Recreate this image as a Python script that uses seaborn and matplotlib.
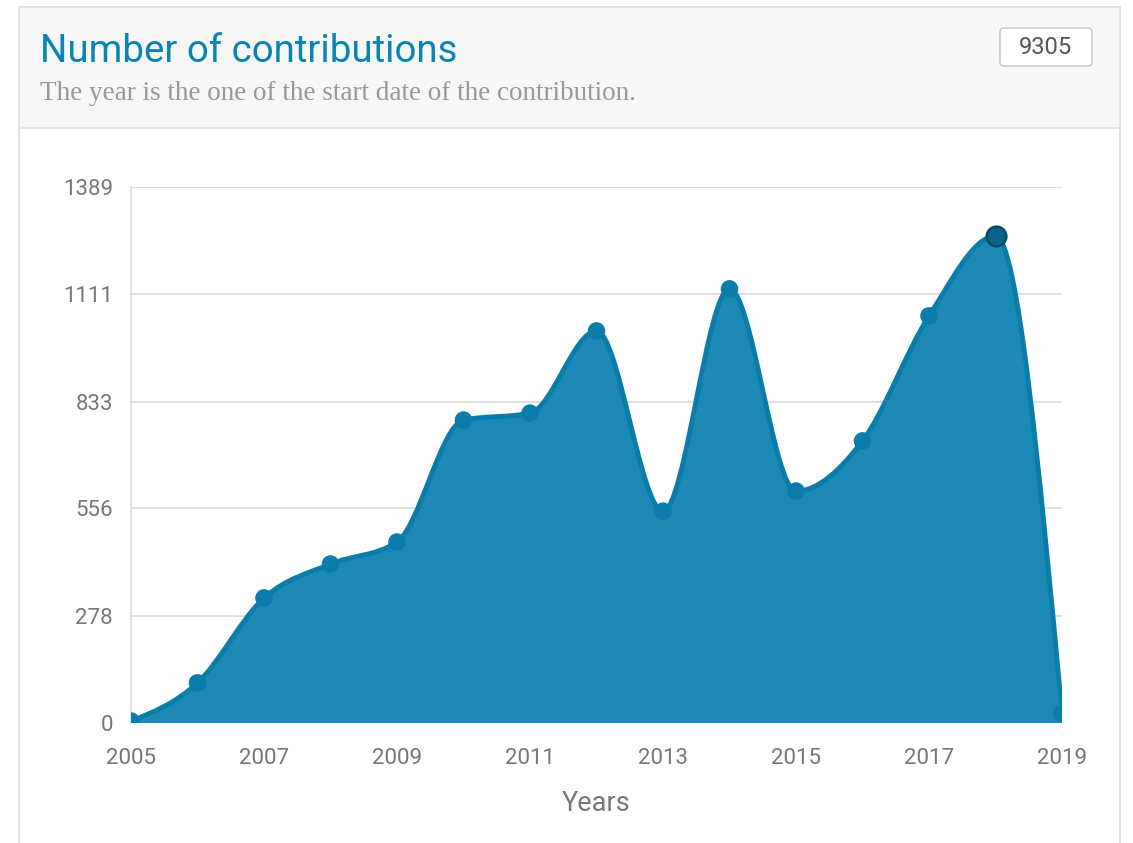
import numpy as np
import pandas as pd
import matplotlib
matplotlib.use("Agg")
import matplotlib.pyplot as plt
from matplotlib.path import Path
from matplotlib.patches import PathPatch, Rectangle, FancyBboxPatch
import seaborn as sns

years = [2005, 2006, 2007, 2008, 2009, 2010, 2011, 2012,
         2013, 2014, 2015, 2016, 2017, 2018, 2019]
contributions = [5, 104, 324, 412, 469, 785, 803, 1016,
                 549, 1125, 601, 731, 1055, 1262, 26]
y_ticks = [0, 278, 556, 833, 1111, 1389]
x_ticks = [2005, 2007, 2009, 2011, 2013, 2015, 2017, 2019]
total_label = "9305"

C_FILL = "#1d89b6"
C_LINE = "#0a7dab"
C_PEAK = "#0b6388"
C_TITLE = "#0a85b3"
C_TICK = "#777777"
C_GRID = "#dddddd"

sns.set_style("white")
plt.rcParams["font.family"] = ["Roboto", "DejaVu Sans"]

df = pd.DataFrame({"year": years, "n": contributions})


def monotone_path(x, y, closed_base=None):
    # monotone-x cubic (no overshoot at extremes) as bezier segments
    x = np.asarray(x, float)
    y = np.asarray(y, float)
    n = len(x)
    h = np.diff(x)
    s = np.diff(y) / h
    t = np.zeros(n)
    for i in range(1, n - 1):
        p = (s[i - 1] * h[i] + s[i] * h[i - 1]) / (h[i - 1] + h[i])
        t[i] = (np.sign(s[i - 1]) + np.sign(s[i])) * min(abs(s[i - 1]), abs(s[i]), 0.5 * abs(p))
    t[0] = (3 * s[0] - t[1]) / 2
    t[-1] = (3 * s[-1] - t[-2]) / 2
    verts = [(x[0], y[0])]
    codes = [Path.MOVETO]
    for i in range(n - 1):
        dx = h[i] / 3
        verts += [(x[i] + dx, y[i] + dx * t[i]),
                  (x[i + 1] - dx, y[i + 1] - dx * t[i + 1]),
                  (x[i + 1], y[i + 1])]
        codes += [Path.CURVE4] * 3
    if closed_base is not None:
        verts += [(x[-1], closed_base), (x[0], closed_base), (x[0], y[0])]
        codes += [Path.LINETO, Path.LINETO, Path.CLOSEPOLY]
    return Path(verts, codes)


fig = plt.figure(figsize=(11.33, 8.43), dpi=100)
fig.patch.set_facecolor("white")

# panel frame and header
fig.patches.append(Rectangle((19 / 1133, -0.01), 1101 / 1133, 1.01 - 7 / 843,
                             transform=fig.transFigure, facecolor="white",
                             edgecolor="#dcdcdc", linewidth=1.2, zorder=-10))
fig.patches.append(Rectangle((19 / 1133, 1 - 128 / 843), 1101 / 1133, 121 / 843,
                             transform=fig.transFigure, facecolor="#f7f7f7",
                             edgecolor="#e3e3e3", linewidth=1.2, zorder=-9))
fig.text(40 / 1133, 1 - 51 / 843, "Number of contributions", color=C_TITLE,
         fontsize=27.6, va="center", ha="left")
fig.text(40 / 1133, 1 - 94 / 843, "The year is the one of the start date of the contribution.",
         color="#999999", fontsize=19.5, va="center", ha="left",
         family=["Liberation Serif", "DejaVu Serif"])
fig.patches.append(FancyBboxPatch((1000 / 1133, 1 - 66 / 843), 92 / 1133, 38 / 843,
                                  boxstyle="round,pad=0,rounding_size=0.004",
                                  transform=fig.transFigure, facecolor="white",
                                  edgecolor="#cccccc", linewidth=1.2, zorder=-8))
fig.text(1046 / 1133, 1 - 48 / 843, total_label, color="#555555", fontsize=17,
         ha="center", va="center")

ax = fig.add_axes([131 / 1133, 1 - 723 / 843, 931 / 1133, 536 / 843])
ax.set_facecolor("none")
ax.set_xlim(years[0], years[-1])
ax.set_ylim(0, y_ticks[-1])
ax.set_yticks(y_ticks)
ax.set_xticks(x_ticks)
ax.set_yticklabels([str(t) for t in y_ticks])
ax.set_xticklabels([str(t) for t in x_ticks])
ax.yaxis.grid(True, color=C_GRID, linewidth=1.3)
ax.set_axisbelow(True)
for sp in ["top", "right", "bottom"]:
    ax.spines[sp].set_visible(False)
ax.spines["left"].set_color(C_GRID)
ax.spines["left"].set_linewidth(1.3)
ax.tick_params(axis="both", length=0, labelsize=16, labelcolor=C_TICK)
ax.tick_params(axis="y", pad=13)
ax.tick_params(axis="x", pad=18)

area = PathPatch(monotone_path(df["year"], df["n"], closed_base=0),
                 facecolor=C_FILL, edgecolor="none", zorder=2)
ax.add_patch(area)
line = PathPatch(monotone_path(df["year"], df["n"]), facecolor="none",
                 edgecolor=C_LINE, linewidth=3.5, zorder=3, capstyle="round")
ax.add_patch(line)

sns.scatterplot(data=df, x="year", y="n", ax=ax, s=160, color=C_LINE,
                edgecolor="none", zorder=4, legend=False)
peak = df.loc[df["n"].idxmax()]
ax.scatter([peak["year"]], [peak["n"]], s=200, color=C_PEAK, edgecolor="#0a4a66",
           linewidth=1.8, zorder=5)

ax.set_xlabel("Years", fontsize=19.5, color="#777777", labelpad=15)
ax.set_ylabel("")

fig.savefig("out.png", dpi=100)
